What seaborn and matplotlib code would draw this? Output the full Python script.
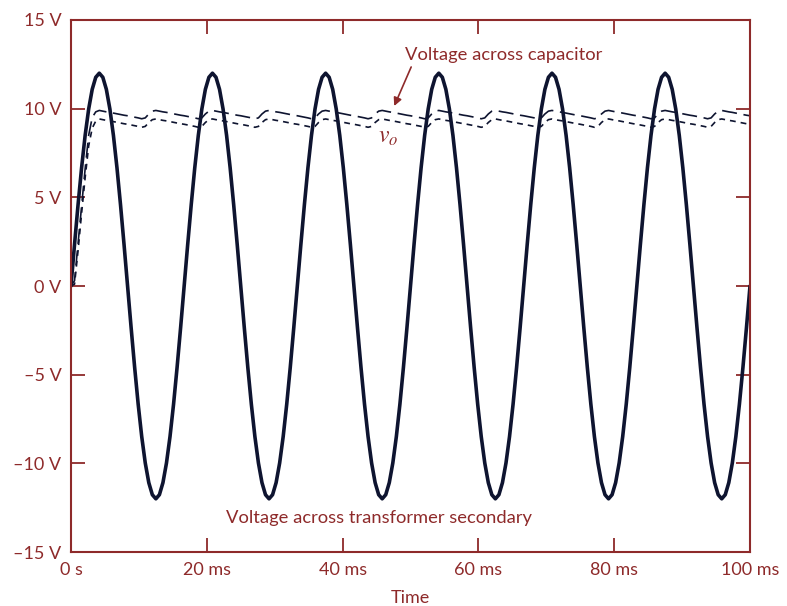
import numpy as np
import pandas as pd
import matplotlib
matplotlib.use("Agg")
import matplotlib.pyplot as plt
import seaborn as sns

# ---- data (volts), sampled every 1/32 of a 60 Hz period ----
CYCLES = 6
SAMPLES_PER_CYCLE = 32
T_END_MS = 100.0

# transformer secondary, one full period
secondary_cycle = [0.00, 2.34, 4.59, 6.67, 8.49, 9.98, 11.09, 11.77,
                   12.00, 11.77, 11.09, 9.98, 8.49, 6.67, 4.59, 2.34,
                   0.00, -2.34, -4.59, -6.67, -8.49, -9.98, -11.09, -11.77,
                   -12.00, -11.77, -11.09, -9.98, -8.49, -6.67, -4.59, -2.34]

# capacitor voltage: initial charge, then one ripple half-period starting at a peak
cap_startup = [0.0, 0.3, 2.4, 4.5, 6.6, 8.5, 9.5, 9.82]
cap_ripple = [9.90, 9.86, 9.82, 9.79, 9.75, 9.71, 9.67, 9.63,
              9.60, 9.56, 9.52, 9.48, 9.43, 9.48, 9.70, 9.86]

# output voltage v_o
vo_startup = [0.0, 0.1, 2.0, 4.1, 6.1, 7.9, 8.9, 9.30]
vo_ripple = [9.42, 9.38, 9.34, 9.31, 9.27, 9.23, 9.19, 9.15,
             9.12, 9.08, 9.04, 9.00, 8.95, 9.00, 9.22, 9.38]

x_ticks = [0, 20, 40, 60, 80, 100]
x_tick_labels = ["0 s", "20 ms", "40 ms", "60 ms", "80 ms", "100 ms"]
y_ticks = [-15, -10, -5, 0, 5, 10, 15]
y_tick_labels = ["\u201315 V", "\u201310 V", "\u20135 V", "0 V", "5 V", "10 V", "15 V"]

# ---- assemble the traces ----
n_pts = CYCLES * SAMPLES_PER_CYCLE + 1
time_ms = np.linspace(0.0, T_END_MS, n_pts)
v_secondary = np.append(np.tile(secondary_cycle, CYCLES), secondary_cycle[0])
n_rest = n_pts - len(cap_startup)
v_cap = np.concatenate([cap_startup, np.tile(cap_ripple, 2 * CYCLES)[:n_rest]])
v_out = np.concatenate([vo_startup, np.tile(vo_ripple, 2 * CYCLES)[:n_rest]])

df = pd.DataFrame({"time": time_ms, "secondary": v_secondary,
                   "capacitor": v_cap, "vo": v_out})

# ---- styling ----
sns.set_style("ticks")
plt.rcParams["font.family"] = ["Lato", "DejaVu Sans"]
plt.rcParams["mathtext.fontset"] = "stix"

RED = "#8e2a2a"
INK = "#0e1430"

fig = plt.figure(figsize=(7.87, 6.06), dpi=100)
ax = fig.add_axes([0.0902, 0.0891, 0.8628, 0.8779])

sns.lineplot(data=df, x="time", y="secondary", color=INK, linewidth=2.6, ax=ax)
sns.lineplot(data=df, x="time", y="capacitor", color=INK, linewidth=1.2, ax=ax)
ax.lines[-1].set_dashes((9, 4))
sns.lineplot(data=df, x="time", y="vo", color=INK, linewidth=1.2, ax=ax)
ax.lines[-1].set_dashes((3.5, 3))

ax.set_xlim(0, 100)
ax.set_ylim(-15, 15)
ax.set_xticks(x_ticks)
ax.set_xticklabels(x_tick_labels)
ax.set_yticks(y_ticks)
ax.set_yticklabels(y_tick_labels)
ax.tick_params(axis="both", direction="in", length=10, width=1.3,
               color=RED, labelcolor=RED, labelsize=13, top=True, right=True,
               pad=7)
for side in ax.spines.values():
    side.set_color(RED)
    side.set_linewidth(1.5)

ax.set_xlabel("Time", color=RED, fontsize=13, labelpad=9)
ax.set_ylabel("")

# ---- annotations ----
ax.text(49.2, 13.05, "Voltage across capacitor", color=RED, fontsize=13.2,
        ha="left", va="center")
ax.annotate("", xy=(47.6, 10.15), xytext=(50.1, 12.35),
            arrowprops=dict(arrowstyle="-|>", color=RED, lw=1.2,
                            mutation_scale=12, shrinkA=0, shrinkB=0))
ax.text(46.7, 8.4, r"$v_o$", color=RED, fontsize=17, ha="center", va="center")
ax.text(45.4, -13.1, "Voltage across transformer secondary", color=RED,
        fontsize=13.2, ha="center", va="center")

fig.savefig("out.png", dpi=100)
